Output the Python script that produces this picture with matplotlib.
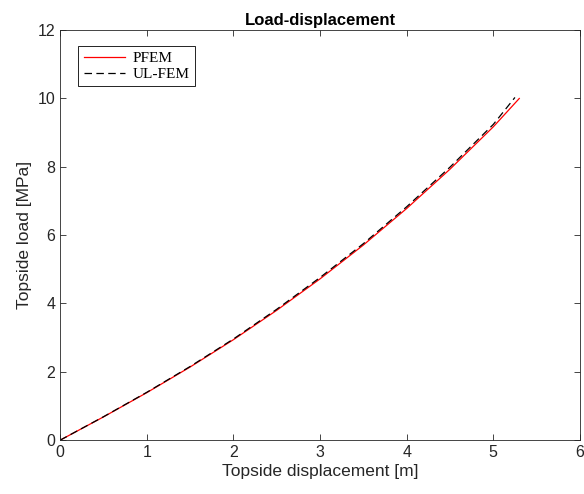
import matplotlib
matplotlib.use('Agg')
import matplotlib.pyplot as plt

# Load-displacement data
pfem_x = [0, 0.5, 1.0, 1.5, 2.0, 2.5, 3.0, 3.5, 4.0, 4.5, 5.0, 5.3]
pfem_y = [0, 0.68, 1.39, 2.14, 2.94, 3.80, 4.72, 5.71, 6.78, 7.93, 9.17, 10.0]
ulfem_x = [0, 0.5, 1.0, 1.5, 2.0, 2.5, 3.0, 3.5, 4.0, 4.5, 5.0, 5.25]
ulfem_y = [0, 0.685, 1.40, 2.155, 2.96, 3.83, 4.76, 5.75, 6.83, 7.99, 9.24, 10.03]

plt.rcParams['font.family'] = ['Liberation Sans', 'DejaVu Sans']

fig = plt.figure(figsize=(5.84, 4.94), dpi=100)
ax = fig.add_axes([0.103, 0.109, 0.890, 0.830])

ax.plot(pfem_x, pfem_y, color='red', linewidth=0.9, label='PFEM')
ax.plot(ulfem_x, ulfem_y, color='black', linewidth=0.9, linestyle=(0, (6, 3.5)), label='UL-FEM')

ax.set_xlim(0, 6)
ax.set_ylim(0, 12)
ax.set_xticks(range(0, 7))
ax.set_yticks(range(0, 13, 2))

grey = '#262626'
ax.tick_params(direction='in', top=True, right=True, length=4, width=0.6,
               colors=grey, labelsize=11.5, labelcolor=grey)
for s in ax.spines.values():
    s.set_color('#262626')
    s.set_linewidth(0.6)

ax.set_xlabel('Topside displacement [m]', fontsize=12.5, color=grey, labelpad=3)
ax.set_ylabel('Topside load [MPa]', fontsize=12.5, color=grey)
ax.set_title('Load-displacement', fontsize=12, fontweight='bold', pad=4)

leg = ax.legend(loc='upper left', bbox_to_anchor=(0.02, 0.98),
                prop={'family': 'Liberation Serif', 'size': 11},
                fancybox=False, edgecolor='black', framealpha=1,
                handlelength=2.7, handletextpad=0.5, borderpad=0.35, labelspacing=0.15)
leg.get_frame().set_linewidth(0.6)

fig.savefig('out.png', dpi=100)
